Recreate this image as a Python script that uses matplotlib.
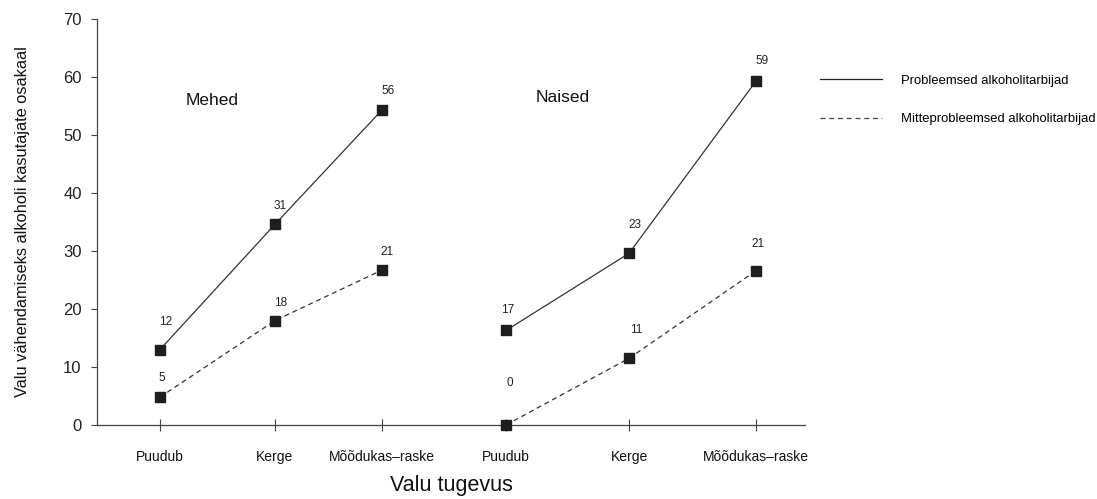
import matplotlib
matplotlib.use("Agg")
import matplotlib.pyplot as plt
from matplotlib.lines import Line2D

plt.rcParams['font.family'] = ['Liberation Sans', 'DejaVu Sans']

# Data
categories = ['Puudub', 'Kerge', 'Mõõdukas–raske']
men_problem = [13.0, 34.6, 54.3]
men_other = [4.8, 18.0, 26.7]
women_problem = [16.3, 29.6, 59.3]
women_other = [0.0, 11.5, 26.6]
# numbers printed next to the points
men_problem_lbl = [12, 31, 56]
men_other_lbl = [5, 18, 21]
women_problem_lbl = [17, 23, 59]
women_other_lbl = [0, 11, 21]
groups = ['Mehed', 'Naised']
series_names = ['Probleemsed alkoholitarbijad', 'Mitteprobleemsed alkoholitarbijad']

# layout: x positions of the six categories and label offsets (pixels)
men_x = [0, 0.965, 1.862]
women_x = [2.903, 3.935, 5.0]
men_problem_off = [(6, 28), (5, 18), (6, 19)]
men_other_off = [(2, 19), (6, 18), (5, 18)]
women_problem_off = [(2, 20), (6, 28), (6, 20)]
women_other_off = [(4, 42), (7, 28), (2, 27)]

fig = plt.figure(figsize=(10.97, 4.99), dpi=100)
ax = fig.add_axes([97 / 1097, 1 - 425 / 499, (805 - 97) / 1097, (425 - 19) / 499])

col = '#1e1e1e'
solid = dict(color='#333333', lw=0.9, marker='s', ms=7.3, mfc=col, mec=col,
             clip_on=False, zorder=3)
dashed = dict(solid, ls=(0, (4, 3)))

for xs, prob, other in [(men_x, men_problem, men_other), (women_x, women_problem, women_other)]:
    ax.plot(xs, prob, **solid)
    ax.plot(xs, other, **dashed)

for xs, vals, lbls, offs in [(men_x, men_problem, men_problem_lbl, men_problem_off),
                             (men_x, men_other, men_other_lbl, men_other_off),
                             (women_x, women_problem, women_problem_lbl, women_problem_off),
                             (women_x, women_other, women_other_lbl, women_other_off)]:
    for x, v, l, o in zip(xs, vals, lbls, offs):
        ax.annotate(str(l), (x, v), xytext=o, textcoords='offset pixels',
                    ha='center', va='center', fontsize=8.5, color='#222222')

ax.text(0.44, 56.0, groups[0], fontsize=12.5, ha='center', va='center', color='#111111')
ax.text(3.38, 56.4, groups[1], fontsize=12.5, ha='center', va='center', color='#111111')

ax.set_xlim(-0.528, 5.411)
ax.set_ylim(0, 70)
ax.set_yticks(range(0, 71, 10))
ax.set_xticks(men_x + women_x)
ax.set_xticklabels(categories + categories)

for s in ['top', 'right']:
    ax.spines[s].set_visible(False)
for s in ['left', 'bottom']:
    ax.spines[s].set_color('#444444')
    ax.spines[s].set_linewidth(0.9)

ax.tick_params(axis='y', direction='out', length=4, width=0.8, pad=7,
               labelsize=12, colors='#444444', labelcolor='#222222')
ax.tick_params(axis='x', direction='inout', length=8, width=0.8, pad=14,
               labelsize=10, colors='#444444', labelcolor='#111111')

ax.set_ylabel('Valu vähendamiseks alkoholi kasutajate osakaal', fontsize=11.8,
              color='#111111', labelpad=24)
ax.set_xlabel('Valu tugevus', fontsize=15.5, color='#111111', labelpad=8)

handles = [Line2D([], [], color='#222222', lw=0.9),
           Line2D([], [], color='#444444', lw=0.9, ls=(0, (4, 3)))]
fig.legend(handles, series_names, loc='upper left', bbox_to_anchor=(808 / 1097, 1 - 63 / 499),
           frameon=False, fontsize=9.4, handlelength=4.8, handletextpad=1.4,
           labelspacing=2.0)

fig.savefig('out.png', dpi=100)
